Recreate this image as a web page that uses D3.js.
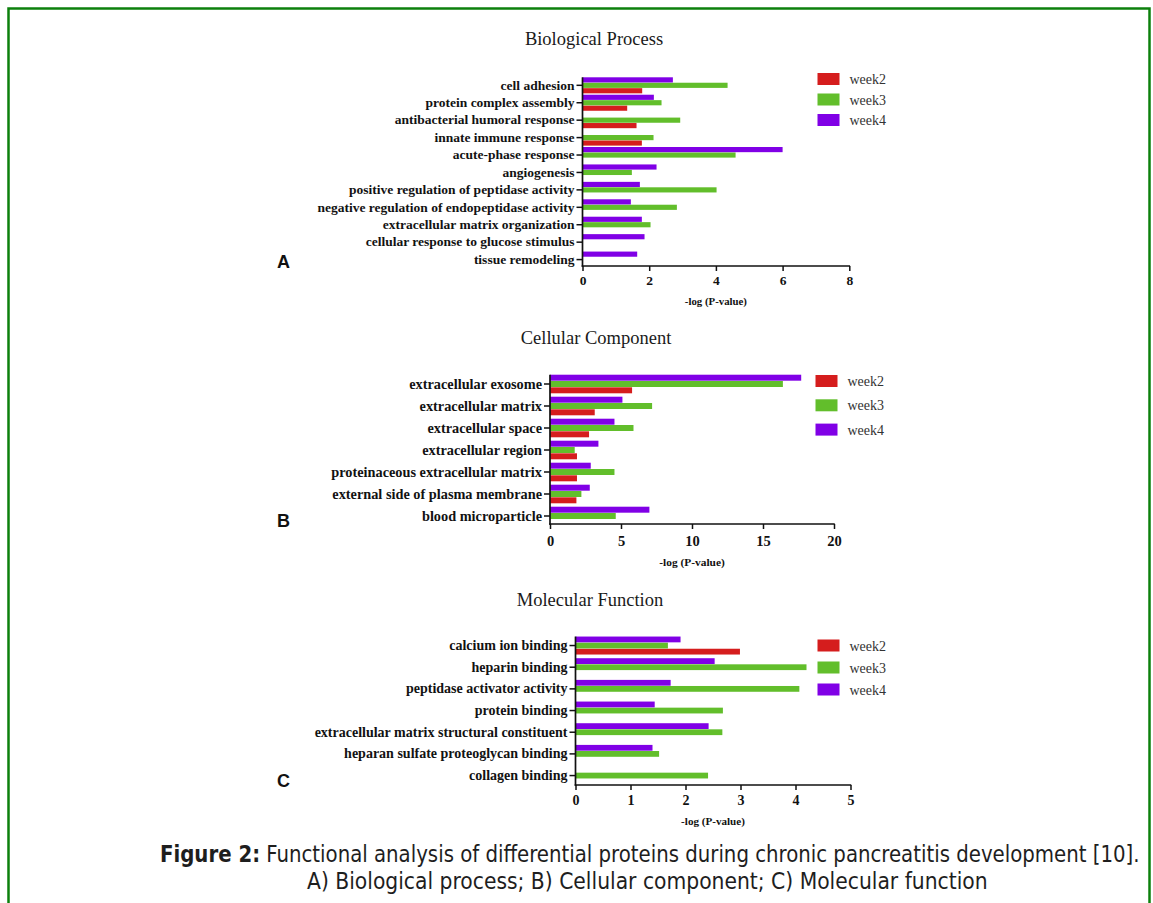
<!DOCTYPE html>
<html>
<head>
<meta charset="utf-8">
<script src="https://cdn.jsdelivr.net/npm/d3@7"></script>
<style>
  body { margin: 0; background: #fff; }
  svg { display: block; }
</style>
</head>
<body>
<svg id="fig" width="1153" height="903"></svg>
<script>
// series shared by the three panels
var legendKeys = ["week2", "week3", "week4"];
var legendColors = ["#d51d1d", "#62be2b", "#8000e6"];

// A) Biological process
var bpTerms = ["cell adhesion", "protein complex assembly", "antibacterial humoral response",
  "innate immune response", "acute-phase response", "angiogenesis",
  "positive regulation of peptidase activity", "negative regulation of endopeptidase activity",
  "extracellular matrix organization", "cellular response to glucose stimulus", "tissue remodeling"];
var bpWeek2 = [1.79, 1.34, 1.62, 1.78, null, null, null, null, null, null, null];
var bpWeek3 = [4.35, 2.37, 2.93, 2.13, 4.59, 1.48, 4.02, 2.83, 2.04, null, null];
var bpWeek4 = [2.71, 2.14, null, null, 6.0, 2.22, 1.72, 1.45, 1.78, 1.86, 1.64];
var bpTicks = [0, 2, 4, 6, 8];

// B) Cellular component
var ccTerms = ["extracellular exosome", "extracellular matrix", "extracellular space",
  "extracellular region", "proteinaceous extracellular matrix",
  "external side of plasma membrane", "blood microparticle"];
var ccWeek2 = [5.78, 3.15, 2.75, 1.90, 1.90, 1.86, null];
var ccWeek3 = [16.4, 7.19, 5.88, 1.74, 4.54, 2.21, 4.63];
var ccWeek4 = [17.69, 5.10, 4.54, 3.41, 2.87, 2.80, 7.0];
var ccTicks = [0, 5, 10, 15, 20];

// C) Molecular function
var mfTerms = ["calcium ion binding", "heparin binding", "peptidase activator activity",
  "protein binding", "extracellular matrix structural constituent",
  "heparan sulfate proteoglycan binding", "collagen binding"];
var mfWeek2 = [2.99, null, null, null, null, null, null];
var mfWeek3 = [1.68, 4.20, 4.07, 2.68, 2.67, 1.52, 2.41];
var mfWeek4 = [1.91, 2.53, 1.73, 1.44, 2.42, 1.40, null];
var mfTicks = [0, 1, 2, 3, 4, 5];

var svg = d3.select("#fig");
var serif = "'Liberation Serif', 'Times New Roman', serif";

// green frame round the figure
svg.append("rect")
  .attr("x", 8.5).attr("y", 8.5)
  .attr("width", 1141).attr("height", 905)
  .attr("fill", "none")
  .attr("stroke", "#0c800c")
  .attr("stroke-width", 2.5);

var panels = [
  { title: "Biological Process", letter: "A", terms: bpTerms,
    values: [bpWeek2, bpWeek3, bpWeek4], ticks: bpTicks,
    x0: 582.5, x1: 849.3, bandTop: 76.6, bandBottom: 268.3, pad: 0.08, axisY: 266,
    titleX: 594, titleY: 45, letterY: 268, labelSize: 13.5,
    tickY: 19, tickSize: 13.5, xTitleY: 39, xTitleSize: 10.8,
    legendX: 817.5, legendY: 73, legendStep: 20.5 },
  { title: "Cellular Component", letter: "B", terms: ccTerms,
    values: [ccWeek2, ccWeek3, ccWeek4], ticks: ccTicks,
    x0: 550, x1: 834, bandTop: 373, bandBottom: 527, pad: 0.155, axisY: 524,
    titleX: 596, titleY: 344, letterY: 527, labelSize: 14.3,
    tickY: 22, tickSize: 14.5, xTitleY: 42, xTitleSize: 11.4,
    legendX: 815.5, legendY: 375, legendStep: 24.3 },
  { title: "Molecular Function", letter: "C", terms: mfTerms,
    values: [mfWeek2, mfWeek3, mfWeek4], ticks: mfTicks,
    x0: 575.5, x1: 850.5, bandTop: 634.7, bandBottom: 786.4, pad: 0.17, axisY: 785,
    titleX: 590, titleY: 606, letterY: 787, labelSize: 14,
    tickY: 20, tickSize: 14, xTitleY: 40, xTitleSize: 11.1,
    legendX: 817.5, legendY: 639.5, legendStep: 22 }
];

panels.forEach(drawPanel);

function drawPanel(p) {
  var g = svg.append("g");

  var x = d3.scaleLinear()
    .domain([0, d3.max(p.ticks)])
    .range([p.x0, p.x1]);

  var y = d3.scaleBand()
    .domain(p.terms)
    .range([p.bandTop, p.bandBottom])
    .paddingInner(p.pad)
    .paddingOuter(p.pad / 2);

  // week4 on top, week3 in the middle, week2 underneath
  var sub = d3.scaleBand()
    .domain(["week4", "week3", "week2"])
    .range([0, y.bandwidth()])
    .paddingInner(0.05);

  var rows = [];
  p.terms.forEach(function (term, i) {
    legendKeys.forEach(function (key, k) {
      var v = p.values[k][i];
      if (v != null) rows.push({ term: term, key: key, value: v, color: legendColors[k] });
    });
  });

  g.selectAll(".bar")
    .data(rows)
    .enter()
    .append("rect")
    .attr("class", "bar")
    .attr("x", x(0))
    .attr("y", function (d) { return y(d.term) + sub(d.key); })
    .attr("width", function (d) { return x(d.value) - x(0); })
    .attr("height", sub.bandwidth())
    .attr("fill", function (d) { return d.color; });

  // y axis
  var yAxis = g.append("g")
    .attr("transform", "translate(" + x(0) + ",0)")
    .call(d3.axisLeft(y).tickSize(6).tickSizeOuter(0).tickPadding(2));
  yAxis.select(".domain").remove();
  yAxis.selectAll("line").attr("stroke", "#111").attr("stroke-width", 1.5);
  yAxis.selectAll("text")
    .attr("fill", "#121212")
    .style("font-family", serif)
    .style("font-weight", "bold")
    .style("font-size", p.labelSize + "px");

  // x axis
  var xAxis = g.append("g")
    .attr("transform", "translate(0," + p.axisY + ")")
    .call(d3.axisBottom(x).tickValues(p.ticks).tickFormat(d3.format("d"))
      .tickSize(5).tickSizeOuter(0));
  xAxis.select(".domain").remove();
  xAxis.selectAll("line").attr("stroke", "#111").attr("stroke-width", 1.5);
  xAxis.selectAll("text")
    .attr("y", p.tickY)
    .attr("dy", null)
    .attr("fill", "#111")
    .style("font-family", serif)
    .style("font-weight", "bold")
    .style("font-size", p.tickSize + "px");

  // axis lines
  g.append("line")
    .attr("x1", x(0)).attr("x2", x(0))
    .attr("y1", y.range()[0] + y.step() * p.pad / 2).attr("y2", p.axisY + 0.75)
    .attr("stroke", "#111").attr("stroke-width", 1.7);
  g.append("line")
    .attr("x1", x(0) - 0.85).attr("x2", x.range()[1] + 0.75)
    .attr("y1", p.axisY).attr("y2", p.axisY)
    .attr("stroke", "#111").attr("stroke-width", 1.7);

  g.append("text")
    .attr("x", (x.range()[0] + x.range()[1]) / 2)
    .attr("y", p.axisY + p.xTitleY)
    .attr("text-anchor", "middle")
    .attr("fill", "#111")
    .style("font-family", serif)
    .style("font-weight", "bold")
    .style("font-size", p.xTitleSize + "px")
    .text("-log (P-value)");

  g.append("text")
    .attr("x", p.titleX)
    .attr("y", p.titleY)
    .attr("text-anchor", "middle")
    .attr("fill", "#1a1a1a")
    .style("font-family", serif)
    .style("font-size", "18.5px")
    .text(p.title);

  g.append("text")
    .attr("x", 277)
    .attr("y", p.letterY)
    .attr("fill", "#111")
    .style("font-family", "'Liberation Sans', Arial, sans-serif")
    .style("font-weight", "bold")
    .style("font-size", "18px")
    .text(p.letter);

  // legend
  var legend = g.selectAll(".legend")
    .data(legendKeys)
    .enter()
    .append("g")
    .attr("transform", function (d, i) {
      return "translate(" + p.legendX + "," + (p.legendY + i * p.legendStep) + ")";
    });
  legend.append("rect")
    .attr("width", 22).attr("height", 12)
    .attr("fill", function (d, i) { return legendColors[i]; });
  legend.append("text")
    .attr("x", 32).attr("y", 11)
    .attr("fill", "#333")
    .style("font-family", serif)
    .style("font-size", "14px")
    .text(function (d) { return d; });
}

// caption: tall narrow type, squeezed horizontally to the reference width
var capFont = "'DejaVu Sans Condensed', 'Liberation Sans Narrow', 'Roboto Condensed', 'Noto Sans', sans-serif";

function captionLine(parts, left, baseline, width) {
  var t = svg.append("text")
    .attr("fill", "#1e1e1e")
    .style("font-family", capFont)
    .style("font-size", "23px");
  parts.forEach(function (part) {
    t.append("tspan")
      .style("font-weight", part.bold ? "bold" : "normal")
      .text(part.text);
  });
  var natural = t.node().getComputedTextLength();
  t.attr("transform", "translate(" + left + "," + baseline + ") scale(" + (width / natural) + ",1)");
}

captionLine([{ text: "Figure 2:", bold: true },
  { text: " Functional analysis of differential proteins during chronic pancreatitis development [10]." }],
  160, 862, 980);
captionLine([{ text: "A) Biological process; B) Cellular component; C) Molecular function" }],
  307, 889, 681);
</script>
</body>
</html>
